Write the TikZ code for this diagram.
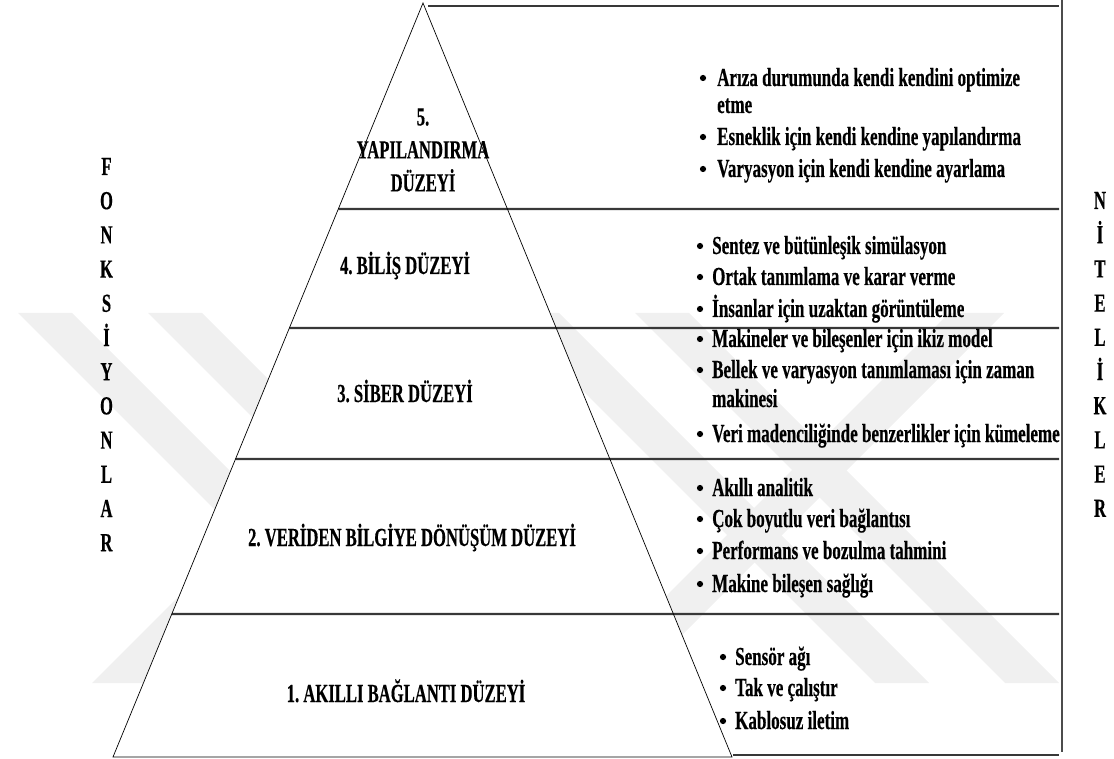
\documentclass[tikz,border=0pt]{standalone}
\usepackage{fontspec}
\setmainfont{Liberation Serif}[FakeStretch=0.64,BoldFeatures={FakeBold=0.4}]
\newfontfamily\listfont{Liberation Serif}[FakeStretch=0.655,BoldFeatures={FakeBold=0.4}]
\usetikzlibrary{calc}
\frenchspacing
\begin{document}
\begin{tikzpicture}[x=1pt,y=-1pt,
  wm/.style={fill=black!6,draw=none},
  divider/.style={line width=2.4pt,draw=black!78},
  frame/.style={line width=1.4pt,draw=black!70},
  side/.style={line width=0.7pt,draw=black},
  dot/.style={fill=black},
  lvl/.style={font=\fontsize{26}{33}\selectfont\bfseries,align=center,inner sep=0pt},
  item/.style={font=\listfont\fontsize{26}{28}\selectfont\bfseries,anchor=base west,
    inner sep=0pt,text height=16pt,text depth=5pt},
  vlet/.style={font=\fontsize{26}{28}\selectfont\bfseries,anchor=base,inner sep=0pt}]

\useasboundingbox (0,0) rectangle (1114,759);

% faint background emblem
\fill[wm] (18,313) -- (72,313) -- (442,683) -- (388,683) -- cycle;
\fill[wm] (148,313) -- (202,313) -- (572,683) -- (518,683) -- cycle;
\fill[wm] (92,683) -- (147,683) -- (517,313) -- (462,313) -- cycle;
\fill[wm] (505,313) -- (559,313) -- (929,683) -- (875,683) -- cycle;
\fill[wm] (635,313) -- (689,313) -- (1059,683) -- (1005,683) -- cycle;
\fill[wm] (579,683) -- (634,683) -- (1004,313) -- (949,313) -- cycle;

% pyramid corners
\coordinate (apex) at (423,3);
\coordinate (bl) at (113,757);
\coordinate (br) at (732,757);
\fill[white] (apex) -- (bl) -- (br) -- cycle;

% level dividers, from the left side of the pyramid to the frame
\coordinate (d1L) at ($(apex)!0.2732!(bl)$);
\coordinate (d2L) at ($(apex)!0.4310!(bl)$);
\coordinate (d3L) at ($(apex)!0.6048!(bl)$);
\coordinate (d4L) at ($(apex)!0.8103!(bl)$);
\coordinate (d1R) at (1059,209);
\coordinate (d2R) at (1059,328);
\coordinate (d3R) at (1059,459);
\coordinate (d4R) at (1059,614);
\draw[divider] (d1L) -- (d1R);
\draw[divider] (d2L) -- (d2R);
\draw[divider] (d3L) -- (d3R);
\draw[divider] (d4L) -- (d4R);

% outer frame of the right column
\coordinate (topL) at (428,6);
\coordinate (topR) at (1059,6);
\coordinate (botL) at (733,755);
\coordinate (botR) at (1059,755);
\coordinate (vT) at (1062,0);
\coordinate (vB) at (1062,752);
\draw[divider] (topL) -- (topR);
\draw[divider] (botL) -- (botR);
\draw[frame] (vT) -- (vB);

\draw[side] (apex) -- (bl) -- (br) -- cycle;

% level names
\node[lvl] (l5) at (423,150) {5.\\YAPILANDIRMA\\DÜZEYİ};
\node[lvl,anchor=base] (l4) at (405,274) {4. BİLİŞ DÜZEYİ};
\node[lvl,anchor=base] (l3) at (405,402) {3. SİBER DÜZEYİ};
\node[lvl,anchor=base] (l2) at (412,546) {2. VERİDEN BİLGİYE DÖNÜŞÜM DÜZEYİ};
\node[lvl,anchor=base] (l1) at (406,702) {1. AKILLI BAĞLANTI DÜZEYİ};

% level 5 features
\node[item] (a1) at (717,86) {Arıza durumunda kendi kendini optimize};
\node[item] (a1b) at (717,113) {etme};
\node[item] (a2) at (717,145) {Esneklik için kendi kendine yapılandırma};
\node[item] (a3) at (717,177) {Varyasyon için kendi kendine ayarlama};

% level 4 features
\node[item] (b1) at (712,254) {Sentez ve bütünleşik simülasyon};
\node[item] (b2) at (712,285) {Ortak tanımlama ve karar verme};
\node[item] (b3) at (712,317) {İnsanlar için uzaktan görüntüleme};

% level 3 features
\node[item] (c1) at (712,347) {Makineler ve bileşenler için ikiz model};
\node[item] (c2) at (712,378) {Bellek ve varyasyon tanımlaması için zaman};
\node[item] (c2b) at (712,407) {makinesi};
\node[item] (c3) at (712,442) {Veri madenciliğinde benzerlikler için kümeleme};

% level 2 features
\node[item] (e1) at (712,496) {Akıllı analitik};
\node[item] (e2) at (712,527) {Çok boyutlu veri bağlantısı};
\node[item] (e3) at (712,559) {Performans ve bozulma tahmini};
\node[item] (e4) at (712,592) {Makine bileşen sağlığı};

% level 1 features
\node[item] (f1) at (735,665) {Sensör ağı};
\node[item] (f2) at (735,696) {Tak ve çalıştır};
\node[item] (f3) at (735,729) {Kablosuz iletim};

% list bullets, left of each item
\foreach \n/\dx in {a1/14,a2/14,a3/14,b1/12,b2/12,b3/12,c1/12,c2/12,c3/12,
                    e1/12,e2/12,e3/12,e4/12,f1/12,f2/12,f3/12}
  \fill[dot] ([xshift=-\dx pt,yshift=8pt]\n.base west) circle (3.1pt);

% vertical side captions
\foreach \ch [count=\i from 0] in {F,O,N,K,S,İ,Y,O,N,L,A,R}
  \node[vlet] (fk\i) at (106.5,{175+34.2*\i}) {\ch};
\foreach \ch [count=\i from 0] in {N,İ,T,E,L,İ,K,L,E,R}
  \node[vlet] (nt\i) at (1100,{209+34.2*\i}) {\ch};
\end{tikzpicture}
\end{document}
